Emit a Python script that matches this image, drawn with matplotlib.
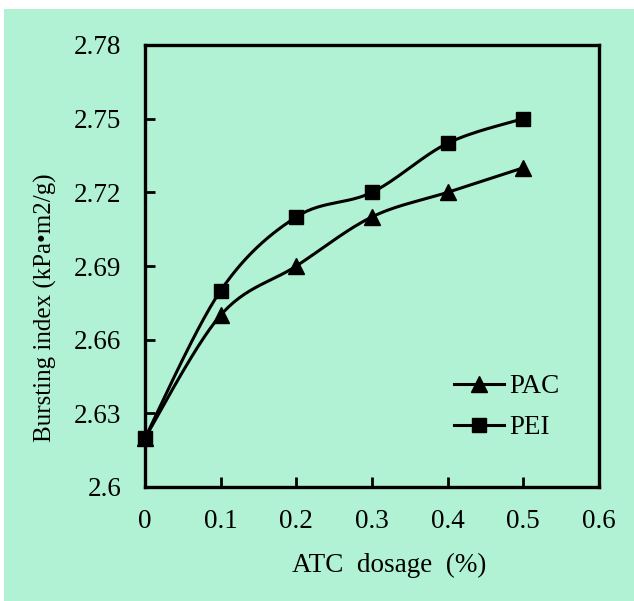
import numpy as np
import matplotlib
matplotlib.use('Agg')
import matplotlib.pyplot as plt
from matplotlib.patches import Rectangle
from matplotlib.lines import Line2D

dosage = [0, 0.1, 0.2, 0.3, 0.4, 0.5]
pac = [2.62, 2.67, 2.69, 2.71, 2.72, 2.73]
pei = [2.62, 2.68, 2.71, 2.72, 2.74, 2.75]

x_ticks = [0, 0.1, 0.2, 0.3, 0.4, 0.5, 0.6]
y_ticks = [2.6, 2.63, 2.66, 2.69, 2.72, 2.75, 2.78]
y_labels = ['2.6', '2.63', '2.66', '2.69', '2.72', '2.75', '2.78']

plt.rcParams['font.family'] = ['Liberation Serif', 'DejaVu Serif']


def smooth(x, y, n=30):
    # Excel-like smoothed line: cubic Bezier segments with Catmull-Rom tangents
    x = np.asarray(x, float)
    y = np.asarray(y, float)
    px = np.concatenate([[x[0]], x, [x[-1]]])
    py = np.concatenate([[y[0]], y, [y[-1]]])
    t = np.linspace(0, 1, n)[:, None]
    xs, ys = [], []
    for i in range(1, len(px) - 2):
        p0 = np.array([px[i], py[i]])
        p1 = np.array([px[i + 1], py[i + 1]])
        c1 = p0 + (np.array([px[i + 1], py[i + 1]]) - np.array([px[i - 1], py[i - 1]])) / 6
        c2 = p1 - (np.array([px[i + 2], py[i + 2]]) - p0) / 6
        pts = ((1 - t) ** 3) * p0 + 3 * ((1 - t) ** 2) * t * c1 + 3 * (1 - t) * t ** 2 * c2 + t ** 3 * p1
        xs.append(pts[:, 0])
        ys.append(pts[:, 1])
    return np.concatenate(xs), np.concatenate(ys)


fig = plt.figure(figsize=(6.34, 6.01), dpi=100, facecolor='white')
bg = '#b2f2d4'
fig.add_artist(Rectangle((4 / 634, 0), 1 - 4 / 634, 1 - 9 / 601,
                         transform=fig.transFigure, facecolor=bg,
                         edgecolor='none', zorder=-10))

ax = fig.add_axes([145 / 634, 1 - 487 / 601, (599 - 145) / 634, (487 - 45) / 601])
ax.set_facecolor(bg)

sx, sy = smooth(dosage, pac)
ax.plot(sx, sy, color='black', lw=2.2, zorder=2, clip_on=False)
ax.plot(dosage, pac, linestyle='none', marker='^', markersize=11, color='black', zorder=3, clip_on=False)
sx, sy = smooth(dosage, pei)
ax.plot(sx, sy, color='black', lw=2.2, zorder=2, clip_on=False)
ax.plot(dosage, pei, linestyle='none', marker='s', markersize=10.5, color='black', zorder=3, clip_on=False)

ax.set_xlim(0, 0.6)
ax.set_ylim(2.6, 2.78)
ax.set_xticks(x_ticks)
ax.set_xticklabels(['0' if v == 0 else f'{v:.1f}' for v in x_ticks])
ax.set_yticks(y_ticks)
ax.set_yticklabels(y_labels)
ax.tick_params(direction='in', length=7, width=2, labelsize=19.5, pad=16, colors='black')
ax.tick_params(axis='y', pad=17)
for s in ax.spines.values():
    s.set_linewidth(2.4)

ax.set_xlabel('ATC  dosage  (%)', fontsize=19.5, va='center')
ax.xaxis.set_label_coords((389 - 145) / 454, (487 - 565) / 442)
ax.set_ylabel('Bursting index (kPa\u2022m2/g)', fontsize=18, va='center')
ax.yaxis.set_label_coords((45 - 145) / 454, (487 - 308) / 442)

handles = [Line2D([], [], color='black', lw=2.2, marker='^', markersize=11),
           Line2D([], [], color='black', lw=2.2, marker='s', markersize=10.5)]
fig.legend(handles, ['PAC', 'PEI'], loc='upper left', bbox_to_anchor=(454 / 634, 1 - 374 / 601),
           borderpad=0, borderaxespad=0, frameon=False, fontsize=19.5,
           handlelength=1.85, handletextpad=0.2, labelspacing=0.6)

fig.savefig('out.png', dpi=100, facecolor='white')
